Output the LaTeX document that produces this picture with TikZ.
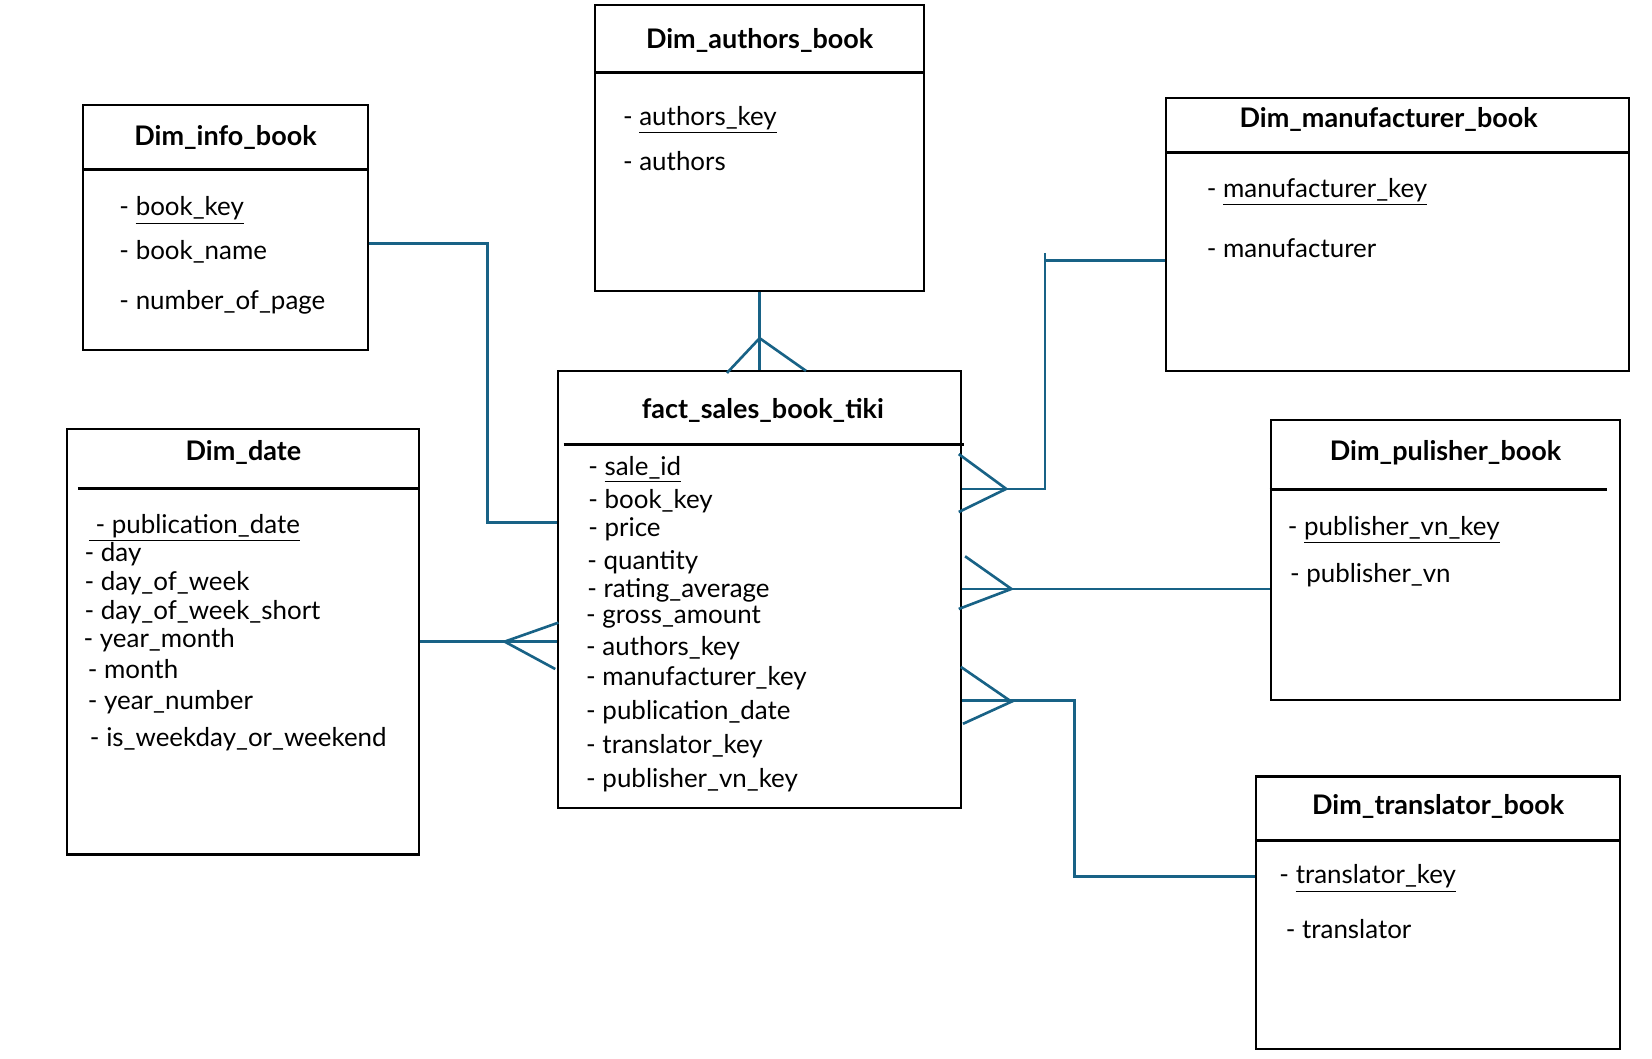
\documentclass[tikz,border=0pt]{standalone}
\usepackage{fontspec}
\setmainfont{Lato}
\usetikzlibrary{positioning}
\definecolor{linkblue}{RGB}{24,98,134}

\begin{document}
\begin{tikzpicture}[x=0.5pt,y=-0.5pt,
  tbl/.style={draw,line width=1pt,inner sep=0pt},
  hline/.style={line width=1.5pt},
  rel/.style={draw=linkblue,line width=1.25pt},
  ttl/.style={font=\fontsize{12.8}{15}\selectfont\bfseries,inner sep=0pt,text height=12pt,text depth=3pt},
  attr/.style={anchor=west,inner sep=0pt,font=\fontsize{12.3}{14}\selectfont,text height=12pt,text depth=3pt}]
\useasboundingbox (0,0) rectangle (1568,1005);

% the tables
\node[tbl,minimum width=135pt,minimum height=116pt] (info) at (214,216) {};
\node[tbl,minimum width=156pt,minimum height=135.5pt] (authors) at (721,140.5) {};
\node[tbl,minimum width=219.5pt,minimum height=129.5pt] (manu) at (1326.5,222.5) {};
\node[tbl,minimum width=167pt,minimum height=202pt] (date) at (231,609) {};
\node[tbl,minimum width=191pt,minimum height=207.5pt] (fact) at (721,559.5) {};
\node[tbl,minimum width=166pt,minimum height=132.5pt] (pub) at (1372,531.5) {};
\node[tbl,minimum width=173pt,minimum height=129.5pt] (trans) at (1365,866.5) {};

\draw[hline] (info.west |- 0,161) -- (info.east |- 0,161);
\draw[hline] (authors.west |- 0,69) -- (authors.east |- 0,69);
\draw[hline] (manu.west |- 0,145) -- (manu.east |- 0,145);
\draw[hline] (74,464) -- (date.east |- 0,464);
\draw[hline] (535,422) -- (915,422);
\draw[hline] (pub.west |- 0,465) -- (1525,465);
\draw[hline] (trans.west |- 0,798) -- (trans.east |- 0,798);

% titles
\node[ttl] (info-t) at (214,129) {Dim\_info\_book};
\node[ttl] (authors-t) at (721,37) {Dim\_authors\_book};
\node[ttl] (manu-t) at (1318,112) {Dim\_manufacturer\_book};
\node[ttl] (date-t) at (231,428) {Dim\_date};
\node[ttl] (fact-t) at (724,388) {fact\_sales\_book\_tiki};
\node[ttl] (pub-t) at (1372,428) {Dim\_pulisher\_book};
\node[ttl] (trans-t) at (1365,764) {Dim\_translator\_book};

% attributes
\node[attr] (info-1) at (113,196) {- \underline{book\_key}};
\node[attr] (info-2) at (113,237) {- book\_name};
\node[attr] (info-3) at (113,285) {- number\_of\_page};

\node[attr] (authors-1) at (591,110) {- \underline{authors\_key}};
\node[attr] (authors-2) at (591,153) {- authors};

\node[attr] (manu-1) at (1145,178) {- \underline{manufacturer\_key}};
\node[attr] (manu-2) at (1145,235) {- manufacturer};

\node[attr] (date-1) at (84,497) {\underline{\ - publication\_date}};
\node[attr] (date-2) at (80,524) {- day};
\node[attr] (date-3) at (80,551) {- day\_of\_week};
\node[attr] (date-4) at (80,579) {- day\_of\_week\_short};
\node[attr] (date-5) at (79,606) {- year\_month};
\node[attr] (date-6) at (83,635) {- month};
\node[attr] (date-7) at (83,664) {- year\_number};
\node[attr] (date-8) at (85,700) {- is\_weekday\_or\_weekend};

\node[attr] (fact-1) at (558,442) {- \underline{sale\_id}};
\node[attr] (fact-2) at (558,474) {- book\_key};
\node[attr] (fact-3) at (558,500) {- price};
\node[attr] (fact-4) at (557,532) {- quantity};
\node[attr] (fact-5) at (557,558) {- rating\_average};
\node[attr] (fact-6) at (556,583) {- gross\_amount};
\node[attr] (fact-7) at (556,613) {- authors\_key};
\node[attr] (fact-8) at (556,642) {- manufacturer\_key};
\node[attr] (fact-9) at (556,674) {- publication\_date};
\node[attr] (fact-10) at (556,706) {- translator\_key};
\node[attr] (fact-11) at (556,738) {- publisher\_vn\_key};

\node[attr] (pub-1) at (1222,499) {- \underline{publisher\_vn\_key}};
\node[attr] (pub-2) at (1224,544) {- publisher\_vn};

\node[attr] (trans-1) at (1214,830) {- \underline{translator\_key}};
\node[attr] (trans-2) at (1220,882) {- translator};

% links
\coordinate (k1) at (463,231);
\draw[rel] (info.east |- k1) -- (k1) |- (fact.west |- 0,496);

\coordinate (k2) at (721,321);
\draw[rel] (authors.south) -- (fact.north);
\draw[rel] ([shift={(-31,33)}]k2) -- (k2) -- ([shift={(44,31)}]k2);

\coordinate (k3) at (479,609);
\draw[rel] (date.east |- k3) -- (fact.west |- k3);
\draw[rel] ([shift={(51,-18)}]k3) -- (k3) -- ([shift={(48,26)}]k3);

\coordinate (k4) at (992,240);
\draw[rel] (manu.west |- 0,247) -- (k4 |- 0,247);
\draw[rel] (k4) |- (fact.east |- 0,464);
\coordinate (k5) at (955,464);
\draw[rel] ([shift={(-45,-33)}]k5) -- (k5) -- ([shift={(-45,22)}]k5);

\coordinate (k6) at (960,559);
\draw[rel] (fact.east |- k6) -- (pub.west |- k6);
\draw[rel] ([shift={(-44,-31)}]k6) -- (k6) -- ([shift={(-50,19)}]k6);

\coordinate (k7) at (1020,665);
\draw[rel] (fact.east |- k7) -- (k7) |- (trans.west |- 0,832);
\coordinate (k8) at (960,666);
\draw[rel] ([shift={(-48,-33)}]k8) -- (k8) -- ([shift={(-46,21)}]k8);
\end{tikzpicture}
\end{document}
